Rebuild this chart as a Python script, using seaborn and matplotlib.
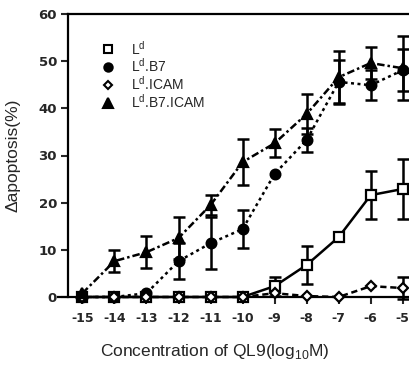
import matplotlib
matplotlib.use("Agg")
import matplotlib.pyplot as plt
import seaborn as sns
import pandas as pd
import numpy as np

conc = [-15, -14, -13, -12, -11, -10, -9, -8, -7, -6, -5]

ld_vals = [0, 0, 0, 0, 0, 0, 2.3, 6.8, 12.7, 21.6, 22.9]
ld_err = [0, 0, 0, 0, 0, 0, 2.0, 4.0, 0, 5.1, 6.4]

b7_vals = [0, 0, 0.8, 7.6, 11.4, 14.4, 26.1, 33.3, 45.6, 44.9, 48.1]
b7_err = [0, 0, 0, 3.8, 5.5, 4.0, 0, 2.6, 4.6, 3.2, 4.5]

icam_vals = [0, 0, 0, 0, 0, 0, 0.8, 0.2, 0, 2.3, 1.9]
icam_err = [0, 0, 0, 0, 0, 0, 0, 0, 0, 0, 2.3]

b7icam_vals = [0.8, 7.6, 9.5, 12.5, 19.5, 28.6, 32.6, 38.8, 46.6, 49.6, 48.5]
b7icam_err = [0, 2.4, 3.4, 4.5, 2.2, 4.8, 3.0, 4.2, 5.5, 3.4, 6.8]

labels = ["L$^{\\mathsf{d}}$", "L$^{\\mathsf{d}}$.B7", "L$^{\\mathsf{d}}$.ICAM", "L$^{\\mathsf{d}}$.B7.ICAM"]
yticks = [0, 10, 20, 30, 40, 50, 60]
xtick_labels = ["-15", "-14", "-13", "-12", "-11", "-10", "-9", "-8", "-7", "-6", "-5"]

sns.set_style("ticks")
plt.rcParams['font.family'] = ['Liberation Sans', 'DejaVu Sans']
plt.rcParams['mathtext.fontset'] = 'custom'
plt.rcParams['mathtext.sf'] = 'Liberation Sans'
plt.rcParams['mathtext.rm'] = 'Liberation Sans'

fig = plt.figure(figsize=(4.09, 3.75), dpi=100)
ax = fig.add_axes([68/409, 1 - 297/375, 1 - 68/409 + 0.02, (297 - 14)/375])

series = [
    (ld_vals, ld_err, 's', 'white', '-', 7),
    (b7_vals, b7_err, 'o', 'black', (0, (1.2, 1.4)), 7),
    (icam_vals, icam_err, 'D', 'white', (0, (2.5, 1.5)), 5),
    (b7icam_vals, b7icam_err, '^', 'black', (0, (3, 1.2, 1, 1.2)), 7.5),
]

frames = []
for lab, (vals, err, m, fc, ls, ms) in zip(labels, series):
    frames.append(pd.DataFrame({"conc": conc, "val": vals, "err": err, "series": lab}))
df = pd.concat(frames, ignore_index=True)

handles = []
for lab, (vals, err, m, fc, ls, ms) in zip(labels, series):
    sub = df[df["series"] == lab]
    e = sub["err"].to_numpy()
    mask = e > 0
    ax.errorbar(sub["conc"].to_numpy()[mask], sub["val"].to_numpy()[mask], yerr=e[mask],
                fmt='none', ecolor='black', elinewidth=1.8, capsize=4, capthick=1.8,
                clip_on=False, zorder=2)
    sns.lineplot(data=sub, x="conc", y="val", ax=ax, color='black', linewidth=1.8,
                 linestyle=ls, marker=m, markersize=ms, markerfacecolor=fc,
                 markeredgecolor='black', markeredgewidth=1.6, clip_on=False,
                 legend=False, zorder=3)
    h, = ax.plot([], [], linestyle='none', marker=m, markersize=ms - 1, markerfacecolor=fc,
                 markeredgecolor='black', markeredgewidth=1.5, color='black')
    handles.append(h)

ax.set_xlim(-15.45, -4.55)
ax.set_ylim(0, 60)
ax.set_xticks(conc)
ax.set_xticklabels(xtick_labels, fontsize=9, fontweight='bold', family='DejaVu Sans')
ax.set_yticks(yticks)
ax.set_yticklabels([str(t) for t in yticks], fontsize=9.5, fontweight='bold', family='DejaVu Sans')
ax.tick_params(axis='both', direction='out', length=5, width=1.5, pad=3)
ax.tick_params(axis='x', pad=6)
for s in ['left', 'bottom', 'top']:
    ax.spines[s].set_linewidth(1.6)
    ax.spines[s].set_color('black')
ax.spines['right'].set_visible(False)
ax.spines['bottom'].set_bounds(-15.75, -4.55)

ax.set_xlabel("Concentration of QL9(log$_{\\mathsf{10}}$M)", fontsize=12.5)
ax.xaxis.set_label_coords(0.42, -0.16)
ax.set_ylabel("\u0394apoptosis(%)", fontsize=12.5)
ax.yaxis.set_label_coords(-0.135, 0.5)

leg = ax.legend(handles, labels, loc='upper left', bbox_to_anchor=(0.08, 0.93),
                frameon=False, fontsize=10, handlelength=1.0, handletextpad=1.1,
                labelspacing=0.0, borderaxespad=0)

fig.savefig("out.png", dpi=100)
